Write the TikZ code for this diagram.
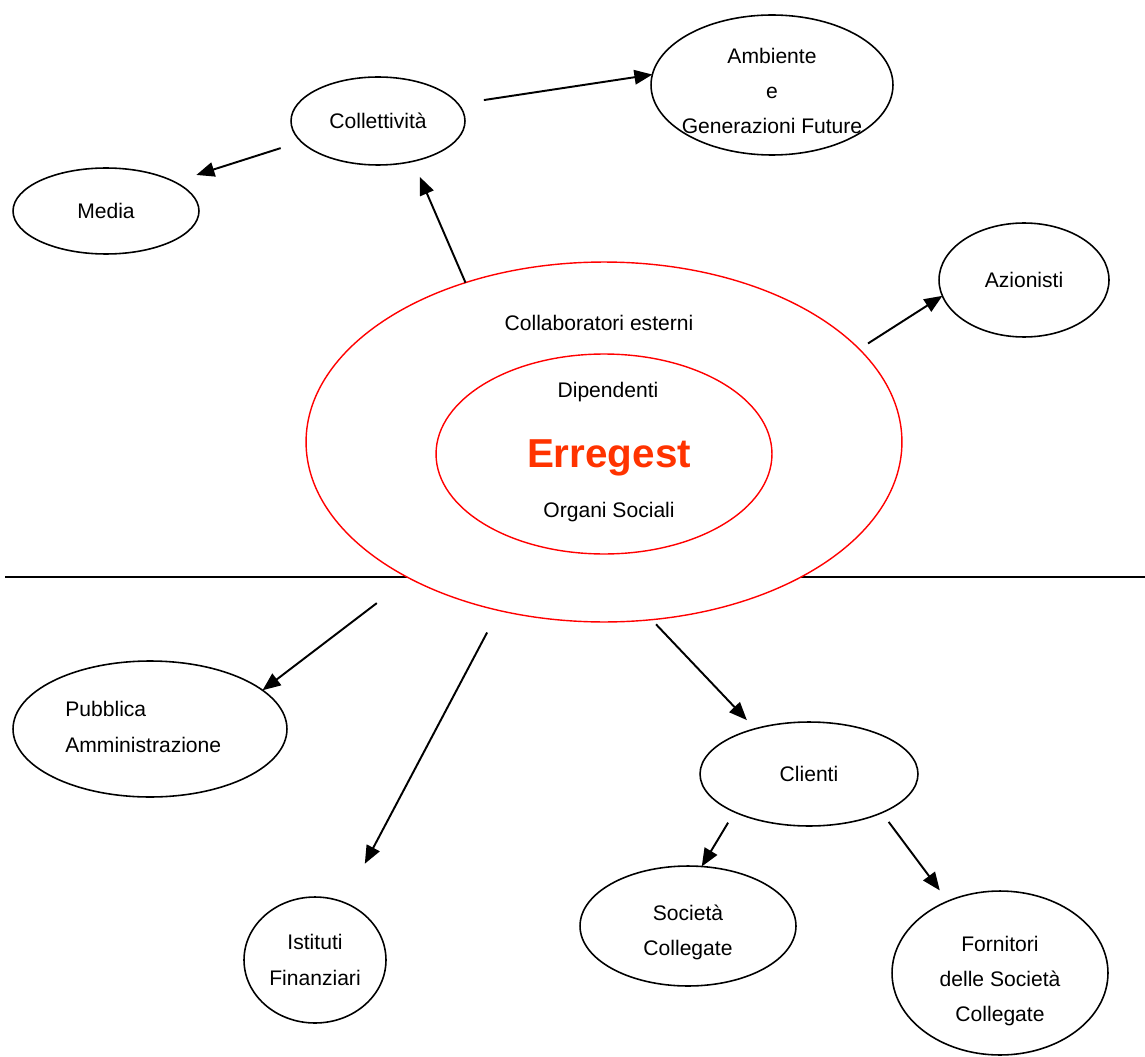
\documentclass[tikz,border=0pt]{standalone}
\usepackage{fontspec}
\setmainfont{Liberation Sans}
\usetikzlibrary{shapes.geometric,arrows.meta}
\definecolor{errorange}{RGB}{255,51,0}

\tikzset{
  bubble/.style={draw, ellipse, line width=0.9pt, inner sep=0pt, outer sep=0pt,
    align=center, font=\fontsize{12}{20}\selectfont},
  ring/.style={draw=red, ellipse, line width=0.8pt, fill=white, inner sep=0pt, outer sep=0pt},
  conn/.style={line width=1.1pt, -{Triangle[length=3.6mm,width=2.9mm]}},
  lbl/.style={font=\fontsize{12}{14}\selectfont},
  blocktext/.style={align=center, font=\fontsize{12}{20}\selectfont}
}

\begin{document}
\begin{tikzpicture}[x=0.02cm, y=-0.02cm]
			%%%%% START %%%%%
			\useasboundingbox (0, 0) rectangle (1145, 1057);
			
			\coordinate (lineL) at (5, 577);
			\coordinate (lineR) at (1145, 577);
			\draw[line width=1pt] (lineL) -- (lineR);
			
			% Erregest rings
			\node[ring, minimum width=11.92cm, minimum height=7.2cm] (outer) at (604, 442) {};
			\node[ring, minimum width=6.72cm, minimum height=4.0cm] (inner) at (604, 454) {};
			\node[lbl] (collab) at (599, 323) {Collaboratori esterni};
			\node[lbl] (dip) at (608, 392) {Dipendenti};
			\node[font=\fontsize{23}{26}\selectfont\bfseries, text=errorange] (erregest) at (609, 458) {Erregest};
			\node[lbl] (organi) at (609, 512) {Organi Sociali};
			
			% upper half
			\node[bubble, minimum width=3.48cm, minimum height=1.76cm] (coll) at (378, 121) {Collettività};
			\node[bubble, minimum width=4.84cm, minimum height=2.8cm] (amb) at (772, 85) {};
			\node[blocktext] (ambtxt) at (772, 91) {Ambiente\\e\\Generazioni Future};
			\node[bubble, minimum width=3.72cm, minimum height=1.72cm] (media) at (106, 211) {Media};
			\node[bubble, minimum width=3.4cm, minimum height=2.28cm] (azion) at (1024, 280) {Azionisti};
			
			% lower half
			\node[bubble, minimum width=5.48cm, minimum height=2.72cm] (pubb) at (150, 729) {};
			\node[blocktext, align=left, anchor=west, inner sep=0pt] (pubbtxt) at (65, 727) {Pubblica\\Amministrazione};
			\node[bubble, minimum width=2.84cm, minimum height=2.52cm] (ist) at (315, 960) {Istituti\\Finanziari};
			\node[bubble, minimum width=4.36cm, minimum height=2.08cm] (clienti) at (809, 774) {Clienti};
			\node[bubble, minimum width=4.32cm, minimum height=2.4cm] (soc) at (688, 926) {};
			\node[blocktext] (soctxt) at (688, 932) {Società\\Collegate};
			\node[bubble, minimum width=4.32cm, minimum height=3.28cm] (forn) at (1000, 973) {};
			\node[blocktext] (forntxt) at (1000, 981) {Fornitori\\delle Società\\Collegate};
			
			% connectors
			\draw[conn, shorten <=0.52cm] (coll.12) -- (amb.175);
			\draw[conn, shorten <=0.43cm, shorten >=0.46cm] (coll.195) -- (media.23);
			\draw[conn, shorten >=0.34cm] (outer.131) -- (coll.-49);
			\draw[conn, shorten <=0.21cm] (outer.20) -- (azion.191);
			\draw[conn, shorten <=0.82cm] (outer.215) -- (pubb.19);
			\draw[conn, shorten <=0.5cm, shorten >=0.88cm] (outer.238) -- (ist.63);
			\draw[conn, shorten <=0.13cm, shorten >=0.24cm] (outer.-75) -- (clienti.140);
			\draw[conn, shorten <=0.25cm] (clienti.207) -- (soc.77);
			\draw[conn, shorten <=0.23cm, shorten >=0.27cm] (clienti.-28) -- (forn.126);
			
			%%%%% END %%%%%
\end{tikzpicture}
\end{document}
